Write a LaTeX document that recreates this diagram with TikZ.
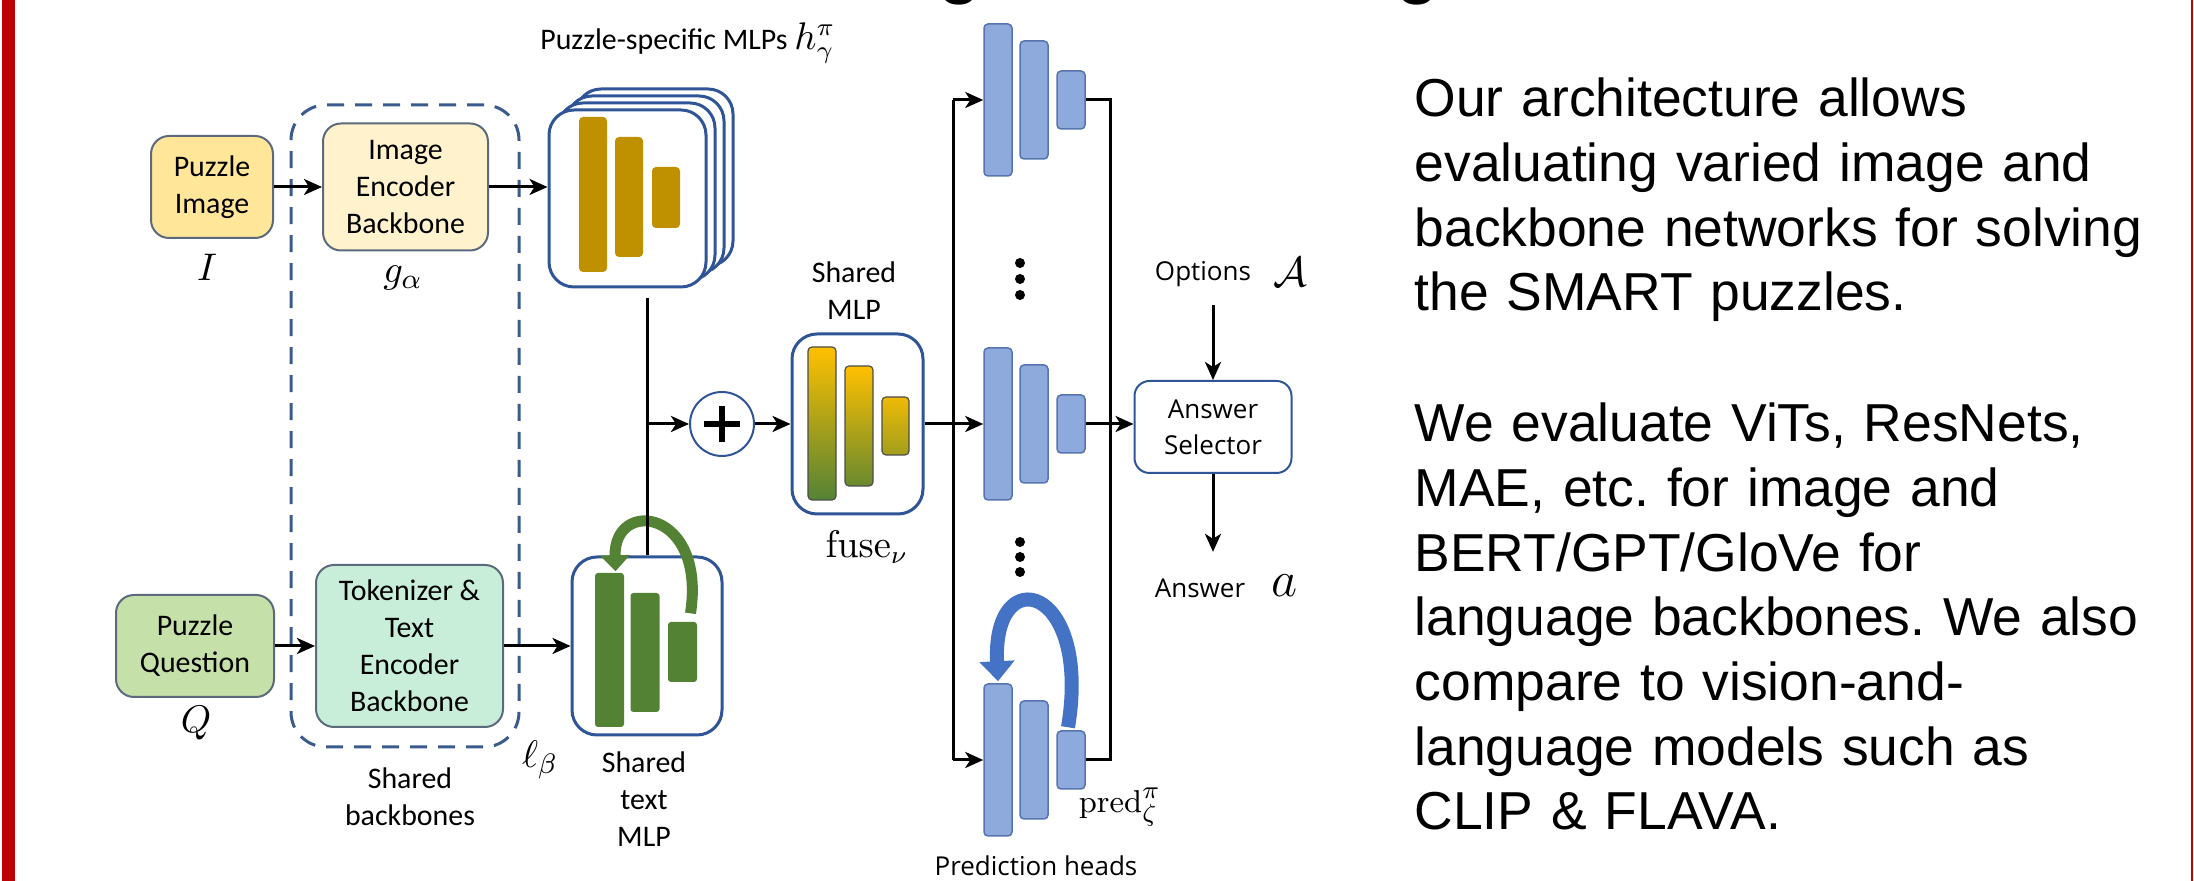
\documentclass[tikz,border=0pt]{standalone}
\usepackage[no-math]{fontspec}
\usepackage{amsmath}
\usetikzlibrary{arrows.meta,calc}
\newfontfamily\carlito{Carlito}
\newfontfamily\opensans{Open Sans}
\newfontfamily\arialf{Liberation Sans}
\frenchspacing
\definecolor{redbar}{HTML}{C00000}
\definecolor{boxgray}{HTML}{5B6B7D}
\definecolor{imgfill}{HTML}{FFE699}
\definecolor{encfill}{HTML}{FFF2CC}
\definecolor{qfill}{HTML}{C5E0A8}
\definecolor{tokfill}{HTML}{C8EDD8}
\definecolor{cardblue}{HTML}{2F5597}
\definecolor{dashblue}{HTML}{3A5B8C}
\definecolor{goldbar}{HTML}{BF9000}
\definecolor{gbar}{HTML}{548235}
\definecolor{gy}{HTML}{FFC000}
\definecolor{hfill}{HTML}{8EA9DB}
\definecolor{hdraw}{HTML}{5675AE}
\definecolor{bloop}{HTML}{4472C4}
\tikzset{
  pbox/.style={draw=boxgray, line width=0.2mm, rounded corners=1.8mm, align=center, inner sep=0,
    font=\carlito\fontsize{8.5pt}{10.5pt}\selectfont},
  dashbox/.style={draw=dashblue, line width=0.3mm, rounded corners=3.5mm, dash pattern=on 1.7mm off 1.1mm, inner sep=0},
  card/.style={draw=cardblue, line width=0.3mm, fill=white, rounded corners=2.5mm, inner sep=0},
  cardstack/.style={card, minimum width=15.7mm, minimum height=17.7mm},
  plusc/.style={circle, draw=cardblue, line width=0.2mm, minimum size=6.4mm, inner sep=0, fill=white},
  hbar/.style={fill=hfill, draw=hdraw, line width=0.15mm, rounded corners=0.4mm, minimum width=2.8mm, inner sep=0},
  tbar/.style={fill=gbar, rounded corners=0.3mm, minimum width=2.9mm, inner sep=0},
  sbar/.style={draw=gray!60!black, line width=0.12mm, rounded corners=0.4mm},
  arr/.style={line width=0.3mm, -{Stealth[length=1.8mm,width=1.6mm,inset=0.5mm]}},
  plainline/.style={line width=0.3mm},
  clbl/.style={inner sep=0, align=center, font=\carlito\fontsize{8.5pt}{10.5pt}\selectfont},
  olbl/.style={inner sep=0, align=center, font=\opensans\fontsize{7.4pt}{10.3pt}\selectfont},
  mlbl/.style={inner sep=0, font=\fontsize{11pt}{13pt}\selectfont},
  para/.style={anchor=base west, align=left, text width=80mm, inner sep=0,
    font=\arialf\fontsize{15.2pt}{18.4pt}\selectfont},
  titleg/.style={anchor=base, inner sep=0, font=\arialf\fontsize{22.8pt}{24pt}\selectfont},
}
\begin{document}
\begin{tikzpicture}[x=0.1mm,y=-0.1mm]
\useasboundingbox (0,0) rectangle (2194,881);
\fill[white] (0,0) rectangle (2194,881);
% frame
\fill[redbar] (2,0) rectangle (15,881);
\draw[redbar, line width=0.25mm] (2192,0) -- (2192,881);
% clipped title fragments
\begin{scope}
\clip (0,0) rectangle (2194,881);
\node[titleg] (g1) at (960,-11) {g};
\node[titleg] (g2) at (1418,-11) {g};
\end{scope}

% shared backbones dashed box
\node[dashbox, minimum width=22.8mm, minimum height=64.2mm] (bb) at (405,426) {};

% input boxes
\node[pbox, fill=imgfill, minimum width=12.2mm, minimum height=10.2mm] (pimg) at (212,187) {Puzzle\\Image};
\node[pbox, fill=encfill, minimum width=16.5mm, minimum height=12.7mm] (ienc) at (405.5,187) {Image\\Encoder\\Backbone};
\node[pbox, fill=qfill, minimum width=15.8mm, minimum height=10.2mm] (pq) at (195,646) {Puzzle\\Question};
\node[pbox, fill=tokfill, minimum width=18.7mm, minimum height=16.2mm] (tok) at (409.5,646) {Tokenizer \&\\Text\\Encoder\\Backbone};

\node[mlbl] (lI) at (207,267) {$I$};
\node[mlbl] (lg) at (403,278) {$g_\alpha$};
\node[mlbl] (lQ) at (196,723) {$Q$};
\node[mlbl] (ll) at (540,760) {$\ell_\beta$};
\node[clbl] (lsb) at (410,797) {Shared\\backbones};

% puzzle-specific MLP stack
\node[cardstack] (card3) at (654.5,177.5) {};
\node[cardstack] (card2) at (645.5,184.5) {};
\node[cardstack] (card1) at (636.5,191.5) {};
\node[cardstack] (stack) at (627.5,198.5) {};
\fill[goldbar, rounded corners=0.4mm] (579,117) rectangle (607,272);
\fill[goldbar, rounded corners=0.4mm] (615,137) rectangle (643,257);
\fill[goldbar, rounded corners=0.4mm] (652,167) rectangle (680,228);
\node[clbl] (lps) at (688,43) {Puzzle-specific MLPs {\fontsize{10.5pt}{12pt}\selectfont$h^\pi_\gamma$}};

% shared text MLP
\node[card, minimum width=15mm, minimum height=17.8mm] (tmlp) at (647,646) {};
\node[tbar, minimum height=15.4mm] (tb1) at (609.5,650) {};
\node[tbar, minimum height=11.9mm] (tb2) at (645,652.5) {};
\node[tbar, minimum height=6mm] (tb3) at (682.5,652) {};
\draw[gbar, line width=1.1mm, -{Triangle[length=1.6mm,width=2.9mm]}]
  ([xshift=0.8mm,yshift=0.8mm]tb3.north) .. controls +(16,-104) and +(-2,-74) .. ([xshift=0.6mm,yshift=0.1mm]tb1.north);
\node[clbl] (lstm) at (644,799) {Shared\\text\\MLP};

% plus and shared MLP
\coordinate (vtop) at (647,298);
\node[plusc] (plus) at (722,424) {};
\draw[line width=0.55mm] ([xshift=-1.8mm]plus.center) -- ([xshift=1.8mm]plus.center);
\draw[line width=0.55mm] ([yshift=-1.8mm]plus.center) -- ([yshift=1.8mm]plus.center);
\node[card, minimum width=13.1mm, minimum height=18mm] (smlp) at (857.5,424) {};
\draw[sbar, top color=gy, bottom color=gbar] (808,347) rectangle (836,500);
\draw[sbar, top color=gy, bottom color=gbar!88!gy] (845,366) rectangle (873,486);
\draw[sbar, top color=gy!90!gbar, bottom color=gbar!55!gy] (882,397) rectangle (909,455);
\node[clbl] (lsm) at (854,291) {Shared\\MLP};
\node[mlbl, font=\fontsize{10.5pt}{12pt}\selectfont] (lfuse) at (867,547) {$\mathrm{fuse}_\nu$};

% connectors on the left
\draw[arr] (pimg) -- (ienc);
\draw[arr] (ienc.east) -- (ienc.east -| stack.west);
\draw[arr] (pq) -- (tok);
\draw[arr] (tok) -- (tmlp);
\draw[plainline] (vtop) -- (tmlp.north);
\draw[arr] (vtop |- plus) -- (plus);
\draw[arr] (plus) -- (smlp);

% prediction heads
\node[hbar, minimum height=15.2mm] (h1a) at (998,100) {};
\node[hbar, minimum height=11.8mm] (h1b) at (1034,100) {};
\node[hbar, minimum height=5.8mm] (h1c) at (1071,100) {};
\node[hbar, minimum height=15.2mm] (h2a) at (998,424) {};
\node[hbar, minimum height=11.8mm] (h2b) at (1034,424) {};
\node[hbar, minimum height=5.8mm] (h2c) at (1071,424) {};
\node[hbar, minimum height=15.2mm] (h3a) at (998,760) {};
\node[hbar, minimum height=11.8mm] (h3b) at (1034,760) {};
\node[hbar, minimum height=5.8mm] (h3c) at (1071,760) {};
\foreach \yy in {263,279,295,542,557,572} {\fill (1020,\yy) circle (0.5mm);}
\draw[bloop, line width=1.4mm, -{Triangle[length=2mm,width=3.4mm]}]
  ([xshift=-0.3mm,yshift=0.3mm]h3c.north) .. controls +(24,-143) and +(-6,-122) .. ([yshift=0.2mm]h3a.north);
\node[olbl] (lph) at (1036,866) {Prediction heads};
\node[mlbl, font=\fontsize{9.5pt}{11pt}\selectfont] (lpred) at (1120,807) {$\mathrm{pred}^\pi_\zeta$};

\coordinate (tr1) at (953,100);
\coordinate (tr3) at (953,760);
\coordinate (c1) at (1110,100);
\coordinate (c3) at (1110,760);
\draw[plainline] (tr1) -- (tr3);
\draw[arr] (tr1) -- (h1a);
\draw[arr] (smlp) -- (h2a);
\draw[arr] (tr3) -- (h3a);
\draw[plainline] (h1c.east) -- (c1) -- (c3) -- (h3c.east);

% answer selector
\node[pbox, draw=cardblue, fill=white, rounded corners=1.5mm, font=\opensans\fontsize{7.4pt}{10.3pt}\selectfont,
  minimum width=15.7mm, minimum height=9.2mm] (asel) at (1213,427) {Answer\\Selector};
\draw[arr] (h2c.east) -- (h2c.east -| asel.west);
\node[olbl] (lopt) at (1203,274) {Options};
\node[mlbl, font=\fontsize{12pt}{14pt}\selectfont] (lA) at (1290,272) {$\mathcal{A}$};
\node[olbl] (lans) at (1200,588) {Answer};
\node[mlbl, font=\fontsize{13.5pt}{15pt}\selectfont] (la) at (1284,586) {$a$};
\draw[arr] ([yshift=-1.8mm]lopt.south -| asel.north) -- (asel.north);
\draw[arr] (asel.south) -- ([yshift=2.6mm]asel.south |- lans.north);

% right-hand text
\node[para] (p1) at (1414,117) {Our architecture allows\\evaluating varied image and\\backbone networks for solving\\the SMART puzzles.};
\node[para] (p2) at (1414,442) {We evaluate ViTs, ResNets,\\MAE, etc. for image and\\BERT/GPT/GloVe for\\language backbones. We also\\compare to vision-and-\\language models such as\\CLIP \& FLAVA.};
\end{tikzpicture}
\end{document}
